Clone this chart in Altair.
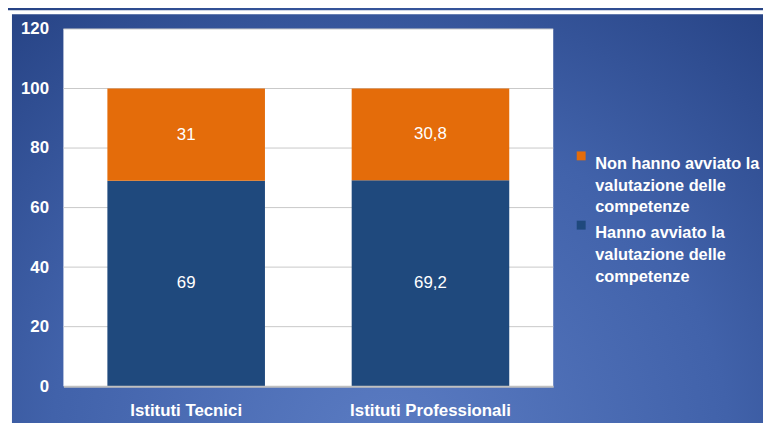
import altair as alt
import pandas as pd

istituti = ["Istituti Tecnici", "Istituti Professionali"]
cat_non = "Non hanno avviato la valutazione delle competenze"
cat_si = "Hanno avviato la valutazione delle competenze"
val_non = [31, 30.8]
val_si = [69, 69.2]
y_ticks = [0, 20, 40, 60, 80, 100, 120]

ORANGE = "#e46c0a"
BLUE = "#1f497d"
FONT = "Liberation Sans"

rows = []
for i, ist in enumerate(istituti):
    rows.append({"istituto": ist, "categoria": cat_si, "valore": val_si[i], "ord": 0})
    rows.append({"istituto": ist, "categoria": cat_non, "valore": val_non[i], "ord": 1})
df = pd.DataFrame(rows)
one = pd.DataFrame({"k": [0]})
grid_df = pd.DataFrame({"v": y_ticks[1:]})

W, H = 495, 361

bg_grad = alt.RadialGradient(
    gradient="radial",
    stops=[
        alt.GradientStop(offset=0, color="#5b7cc3"),
        alt.GradientStop(offset=0.55, color="#4162aa"),
        alt.GradientStop(offset=1, color="#233f80"),
    ],
    x1=0.5, y1=0.8, r1=0, x2=0.5, y2=0.8, r2=0.8,
)

background = alt.Chart(one).mark_rect(fill=bg_grad).encode(
    x=alt.value(-60), x2=alt.value(720), y=alt.value(-25), y2=alt.value(420)
)
frame = alt.Chart(one).mark_rect(fill="transparent", stroke="white", strokeWidth=4).encode(
    x=alt.value(-54), x2=alt.value(900), y=alt.value(-17), y2=alt.value(700)
)
plot_bg = alt.Chart(one).mark_rect(fill="white").encode(
    x=alt.value(0), x2=alt.value(W), y=alt.value(0), y2=alt.value(H)
)

yscale = alt.Scale(domain=[0, 120])
yaxis = alt.Axis(
    title=None, values=y_ticks, grid=False, ticks=False, domain=False,
    labelFont=FONT, labelFontSize=17, labelFontWeight="bold", labelColor="white",
    labelPadding=15, zindex=1,
)

grid = alt.Chart(grid_df).mark_rule(color="#c8c8c8", strokeWidth=1).encode(
    y=alt.Y("v:Q", scale=yscale, axis=yaxis),
    x=alt.value(0), x2=alt.value(W),
)

xenc = alt.X(
    "istituto:N",
    sort=istituti,
    scale=alt.Scale(paddingInner=0.355, paddingOuter=0.18),
    axis=alt.Axis(
        title=None, labelAngle=0, ticks=False, domainColor="#c0c0c0", domainWidth=2,
        labelFont=FONT, labelFontSize=17, labelFontWeight="bold", labelColor="white",
        labelPadding=17, zindex=1,
    ),
)

bars = alt.Chart(df).mark_bar().encode(
    x=xenc,
    y=alt.Y("valore:Q", stack="zero", scale=yscale, axis=yaxis),
    color=alt.Color(
        "categoria:N",
        scale=alt.Scale(domain=[cat_non, cat_si], range=[ORANGE, BLUE]),
        legend=alt.Legend(
            title=None, orient="none", legendX=515, legendY=120,
            symbolType="square", symbolSize=81, symbolStrokeWidth=0,
            labelFont=FONT, labelFontSize=16.5, labelFontWeight="bold", labelColor="white",
            labelOffset=6, labelLimit=300, rowPadding=1, labelBaseline="top",
            labelExpr="datum.label == '" + cat_non + "' ? ['Non hanno avviato la', 'valutazione delle', 'competenze'] : ['Hanno avviato la', 'valutazione delle', 'competenze']",
        ),
    ),
    order=alt.Order("ord:Q"),
)

texts = alt.Chart(df).transform_stack(
    stack="valore", groupby=["istituto"], as_=["y0", "y1"], sort=[alt.SortField("ord")]
).transform_calculate(
    mid="(datum.y0 + datum.y1) / 2",
    lab="replace(toString(datum.valore), '.', ',')",
).mark_text(font=FONT, fontSize=17, color="white", baseline="middle").encode(
    x=alt.X("istituto:N", sort=istituti),
    y=alt.Y("mid:Q", scale=yscale, axis=yaxis),
    text="lab:N",
)

chart = alt.layer(background, frame, plot_bg, grid, bars, texts).properties(
    width=W, height=H,
    autosize=alt.AutoSizeParams(type="none"),
    padding={"left": 56, "top": 19, "right": 212, "bottom": 35},
).configure_view(stroke="transparent").configure(
    style={"guide-label": {"lineHeight": 22}}
)

chart.save("out.html", embed_options={"renderer": "svg", "actions": False})
